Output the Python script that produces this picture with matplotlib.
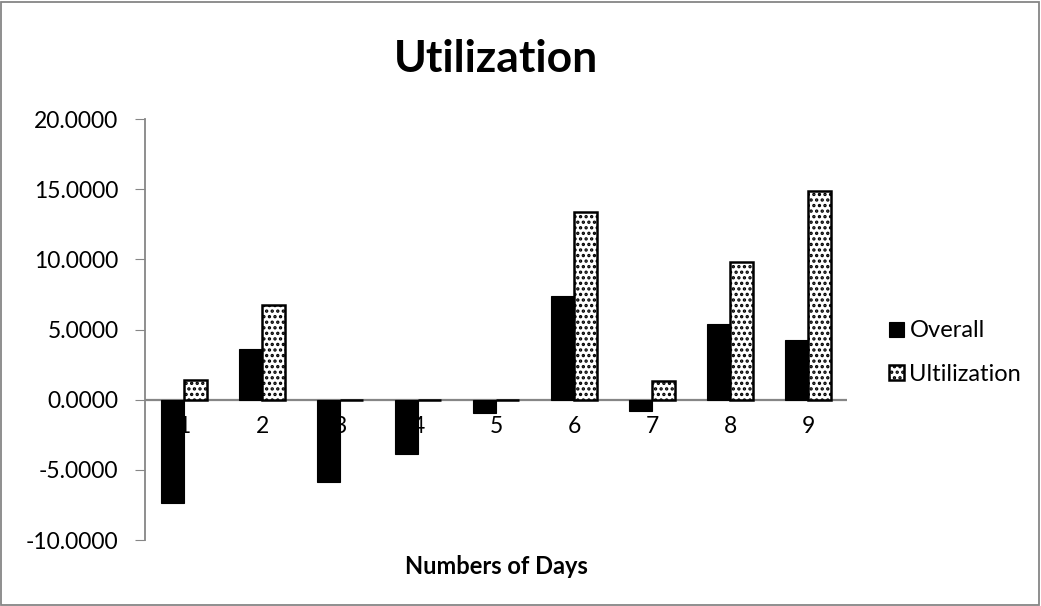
import matplotlib
matplotlib.use("Agg")
import matplotlib.pyplot as plt
from matplotlib.patches import Rectangle
import numpy as np

days = ["1", "2", "3", "4", "5", "6", "7", "8", "9"]
overall = [-7.39, 3.59, -5.90, -3.86, -0.97, 7.39, -0.83, 5.40, 4.25]
utilization = [1.43, 6.75, 0.0, 0.0, 0.0, 13.40, 1.35, 9.84, 14.90]
yticks = [-10, -5, 0, 5, 10, 15, 20]

plt.rcParams['font.family'] = ['Lato', 'DejaVu Sans']
plt.rcParams['hatch.linewidth'] = 1.6

fig = plt.figure(figsize=(10.41, 6.06), dpi=100)
ax = fig.add_axes([0.1393, 0.1089, 0.6744, 0.6947])

x = np.arange(len(days))
w = 0.295
b1 = ax.bar(x - w/2, overall, width=w, color='black', edgecolor='black',
            linewidth=0.8, label='Overall', zorder=3)
b2 = ax.bar(x + w/2, utilization, width=w, color='white', edgecolor='black',
            hatch='...', linewidth=1.8, label='Ultilization', zorder=3)

ax.set_xlim(-0.5, len(days) - 0.5)
ax.set_ylim(-10, 20)
ax.set_yticks(yticks)
ax.set_yticklabels([f"{v:.4f}" for v in yticks], fontsize=16.5)
ax.tick_params(axis='y', direction='out', length=7, color='#868686', pad=12)
ax.set_xticks([])

for s in ['top', 'right', 'bottom']:
    ax.spines[s].set_visible(False)
ax.spines['left'].set_color('#868686')
ax.spines['left'].set_linewidth(1.3)
ax.axhline(0, color='#868686', linewidth=1.6, zorder=2)

for i, d in enumerate(days):
    ax.annotate(d, xy=(i, 0), xytext=(0, -19), textcoords='offset points',
                ha='center', va='center', fontsize=16.5, zorder=1,
                annotation_clip=False)

ax.set_title("Utilization", fontsize=32, fontweight='bold', pad=34)
ax.set_xlabel("Numbers of Days", fontsize=17, fontweight='bold', labelpad=11)

leg = ax.legend(loc='center left', bbox_to_anchor=(1.03, 0.445), frameon=False,
                fontsize=17, handlelength=0.6, handleheight=0.6,
                handletextpad=0.25, labelspacing=0.95)

fig.patches.append(Rectangle((0.001, 0.002), 0.997, 0.995, transform=fig.transFigure,
                             fill=False, edgecolor='#868686', linewidth=1.3))

fig.savefig("out.png", dpi=100)
